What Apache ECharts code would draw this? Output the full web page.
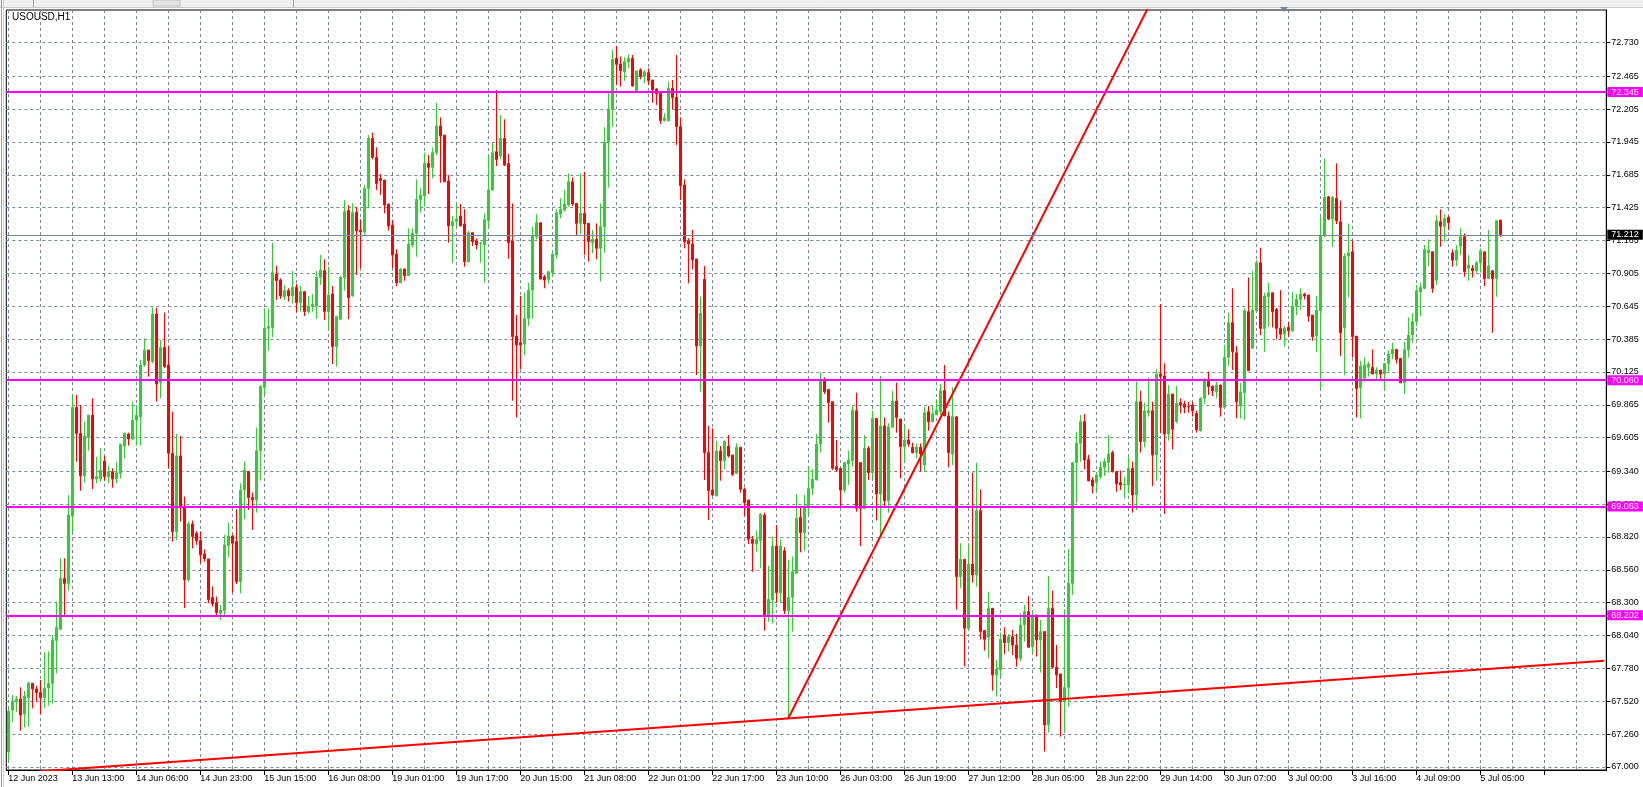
<!DOCTYPE html>
<html><head><meta charset="utf-8">
<script src="https://cdn.jsdelivr.net/npm/echarts@6/dist/echarts.min.js"></script>
<style>html,body{margin:0;padding:0;background:#fff;overflow:hidden}#c{width:1643px;height:787px}</style>
</head><body><div id="c"></div>
<script>
const chartTitle = 'USOUSD,H1';
const xLabels = ['12 Jun 2023','13 Jun 13:00','14 Jun 06:00','14 Jun 23:00','15 Jun 15:00','16 Jun 08:00','19 Jun 01:00','19 Jun 17:00','20 Jun 15:00','21 Jun 08:00','22 Jun 01:00','22 Jun 17:00','23 Jun 10:00','26 Jun 03:00','26 Jun 19:00','27 Jun 12:00','28 Jun 05:00','28 Jun 22:00','29 Jun 14:00','30 Jun 07:00','3 Jul 00:00','3 Jul 16:00','4 Jul 09:00','5 Jul 05:00'];
const barsPerLabel = 16;
const barsPerGrid = 8;
const totalSlots = 400;
const yTicks = [67.000,67.260,67.520,67.780,68.040,68.300,68.560,68.820,69.080,69.340,69.605,69.865,70.125,70.385,70.645,70.905,71.165,71.425,71.685,71.945,72.205,72.465,72.730];
const levels = [72.345, 70.060, 69.063, 68.202];
const lastPrice = 71.212;
const supportLine = [[8, 66.966], [399, 67.840]];
const steepLine = [[195, 67.385], [285, 73.010]];
// [open, high, low, close]
const bars = [
[67.12,67.46,67.05,67.44],[67.451,67.569,67.358,67.522],[67.517,67.561,67.437,67.538],[67.538,67.630,67.287,67.411],
[67.419,67.601,67.313,67.561],[67.548,67.675,67.319,67.662],[67.662,67.662,67.464,67.617],[67.617,67.641,67.517,67.588],
[67.590,67.688,67.419,67.548],[67.548,67.907,67.464,67.622],[67.625,67.915,67.485,67.662],[67.662,68.044,67.503,68.004],
[67.999,68.308,67.741,68.105],[68.089,68.651,68.084,68.492],[68.492,68.651,68.202,68.453],[68.453,69.152,68.395,68.993],
[68.985,69.943,68.854,69.845],[69.845,69.943,69.415,69.639],[69.639,69.864,69.186,69.304],[69.304,69.732,69.249,69.618],
[69.608,69.784,69.502,69.784],[69.784,69.916,69.199,69.278],[69.278,69.455,69.244,69.297],[69.278,69.521,69.257,69.349],
[69.420,69.460,69.265,69.297],[69.297,69.384,69.244,69.336],[69.336,69.363,69.210,69.278],[69.278,69.415,69.244,69.328],
[69.323,69.560,69.283,69.552],[69.539,69.645,69.442,69.639],[69.634,69.645,69.542,69.595],[69.595,69.890,69.587,69.745],
[69.745,69.864,69.542,69.784],[69.771,70.220,69.542,70.180],[70.180,70.391,70.167,70.299],[70.299,70.299,70.088,70.214],
[70.207,70.634,70.194,70.584],[70.584,70.634,69.891,70.030],[70.041,70.378,69.917,70.318],[70.318,70.595,70.154,70.167],
[70.181,70.334,69.363,69.482],[69.482,69.811,68.783,68.862],[68.862,69.635,68.796,69.461],[69.461,69.619,68.941,69.060],
[69.060,69.139,68.256,68.480],[68.480,68.941,68.466,68.923],[68.923,68.949,68.730,68.823],[68.849,68.867,68.757,68.791],
[68.791,68.862,68.612,68.678],[68.686,68.722,68.625,68.646],[68.646,68.646,68.295,68.322],[68.340,68.427,68.269,68.290],
[68.300,68.348,68.190,68.221],[68.216,68.282,68.163,68.242],[68.237,68.836,68.203,68.757],[68.752,68.934,68.659,68.828],
[68.828,68.836,68.379,68.770],[68.783,69.039,68.448,68.467],[68.467,69.245,68.374,69.192],[69.192,69.416,68.960,69.350],
[69.337,69.337,69.034,69.131],[69.131,69.171,68.875,69.113],[69.113,69.685,69.012,69.503],[69.503,70.022,69.266,70.009],
[70.004,70.629,69.943,70.471],[70.471,70.629,70.294,70.484],[70.476,71.148,70.400,70.911],[70.901,70.964,70.695,70.848],
[70.853,70.866,70.703,70.727],[70.721,70.814,70.695,70.769],[70.769,70.787,70.682,70.727],[70.727,70.924,70.668,70.795],
[70.795,70.821,70.595,70.674],[70.674,70.806,70.603,70.761],[70.761,70.761,70.568,70.603],[70.603,70.727,70.589,70.647],
[70.642,70.740,70.603,70.663],[70.647,70.924,70.545,70.874],[70.874,71.051,70.814,70.932],[70.927,71.017,70.537,70.603],
[70.603,70.959,70.458,70.734],[70.742,70.806,70.189,70.326],[70.326,70.569,70.167,70.563],[70.542,70.885,70.537,70.874],
[70.874,71.485,70.769,71.394],[71.402,71.446,70.542,70.713],[70.727,71.460,70.721,71.386],[71.388,71.428,70.893,71.241],
[71.249,71.333,70.945,71.233],[71.235,71.604,71.209,71.578],[71.578,71.999,71.419,71.973],[71.973,72.018,71.807,71.823],
[71.823,71.902,71.565,71.617],[71.657,71.691,71.525,71.638],[71.644,71.644,71.380,71.446],[71.454,71.454,71.243,71.280],
[71.288,71.327,70.945,71.050],[71.058,71.095,70.805,70.831],[70.831,70.945,70.831,70.940],[70.940,70.940,70.847,70.887],
[70.887,71.261,70.887,71.137],[71.129,71.261,71.111,71.222],[71.222,71.649,71.037,71.491],[71.491,71.578,71.385,71.525],
[71.517,71.860,71.433,71.776],[71.776,71.841,71.533,71.744],[71.744,71.902,71.657,71.860],[71.860,72.255,71.841,72.071],
[72.071,72.139,71.623,71.992],[71.999,71.999,71.630,71.630],[71.636,71.683,71.148,71.280],[71.280,71.359,70.990,71.314],
[71.314,71.454,71.274,71.335],[71.359,71.454,71.280,71.280],[71.296,71.414,70.958,70.998],[70.998,71.243,70.990,71.227],
[71.227,71.227,71.122,71.156],[71.161,71.182,71.095,71.129],[71.143,71.156,70.990,71.145],[71.129,71.380,70.831,71.332],
[71.322,71.828,71.261,71.565],[71.565,71.939,71.560,71.860],[71.868,72.356,71.754,71.807],[71.833,72.158,71.807,71.973],
[71.973,72.124,71.754,71.762],[71.775,71.849,71.019,71.148],[71.161,71.459,69.898,70.404],[70.409,70.576,69.766,70.338],
[70.357,70.726,70.146,70.338],[70.346,70.752,70.259,70.549],[70.549,70.831,70.489,70.773],[70.773,71.274,70.549,71.201],
[71.195,71.375,71.174,71.306],[71.306,71.306,70.860,70.860],[70.879,70.892,70.787,70.852],[70.858,70.926,70.826,70.918],
[70.911,71.063,70.884,71.058],[71.050,71.412,71.024,71.385],[71.375,71.499,71.340,71.412],[71.407,71.565,71.393,71.454],
[71.446,71.696,71.433,71.630],[71.630,71.665,71.438,71.454],[71.459,71.459,71.209,71.301],[71.301,71.696,71.216,71.380],
[71.380,71.709,71.050,71.296],[71.301,71.301,70.998,71.156],[71.148,71.249,71.064,71.175],[71.175,71.301,71.017,71.104],
[71.104,71.460,70.840,71.275],[71.275,72.061,71.069,71.942],[71.947,72.343,71.584,72.206],[72.203,72.673,72.066,72.599],
[72.607,72.704,72.396,72.559],[72.562,72.620,72.383,72.509],[72.501,72.615,72.430,72.580],[72.580,72.638,72.528,72.607],
[72.607,72.633,72.383,72.388],[72.338,72.507,72.338,72.507],[72.514,72.528,72.441,72.462],[72.467,72.514,72.409,72.501],
[72.493,72.528,72.396,72.430],[72.435,72.435,72.256,72.356],[72.364,72.369,72.238,72.325],[72.330,72.330,72.087,72.114],
[72.114,72.172,72.106,72.137],[72.114,72.422,72.106,72.369],[72.369,72.435,72.203,72.296],[72.298,72.633,71.921,72.066],
[72.066,72.140,71.486,71.599],[71.605,71.649,71.104,71.156],[71.164,71.183,70.827,71.138],[71.138,71.249,70.937,71.011],
[71.019,71.019,70.101,70.331],[70.331,70.721,69.970,70.589],[70.858,70.963,69.270,69.487],[69.487,69.698,68.954,69.186],
[69.191,69.679,69.144,69.152],[69.144,69.579,69.144,69.500],[69.500,69.539,69.265,69.423],[69.423,69.579,69.355,69.579],
[69.539,69.626,69.450,69.460],[69.468,69.468,69.302,69.315],[69.323,69.560,69.318,69.529],[69.529,69.529,69.170,69.197],
[69.197,69.212,68.986,69.091],[69.112,69.112,68.764,68.801],[68.801,68.827,68.545,68.769],[68.764,68.870,68.704,68.801],
[68.791,69.007,68.572,69.001],[68.994,69.012,68.078,68.202],[68.202,68.590,68.150,68.326],[68.321,68.822,68.136,68.748],
[68.748,68.914,68.300,68.379],[68.379,68.801,68.295,68.748],[68.711,68.738,68.210,68.237],[68.237,68.638,67.385,68.342],
[68.342,68.664,68.071,68.545],[68.532,69.160,68.532,68.967],[68.975,69.059,68.698,68.854],[68.854,69.152,68.711,69.054],
[69.054,69.376,68.994,69.204],[69.204,69.355,69.152,69.276],[69.270,69.634,69.270,69.555],[69.555,70.120,69.487,70.067],
[70.067,70.083,69.951,69.969],[69.988,69.988,69.724,69.882],[69.890,69.890,69.350,69.363],[69.376,69.587,69.336,69.350],
[69.363,69.363,69.054,69.191],[69.191,69.408,69.170,69.408],[69.397,69.503,69.231,69.429],[69.423,69.856,69.376,69.824],
[69.819,69.961,69.020,69.046],[69.408,69.408,68.748,69.046],[69.046,69.626,69.038,69.521],[69.521,69.539,69.270,69.328],
[69.328,69.819,69.276,69.758],[69.758,69.758,68.949,69.160],[69.160,70.093,68.822,69.698],[69.698,69.766,69.059,69.107],
[69.107,69.719,69.012,69.692],[69.687,69.977,69.687,69.895],[69.895,70.040,69.645,69.766],[69.753,69.753,69.284,69.534],
[69.534,69.706,69.415,69.587],[69.587,69.671,69.534,69.555],[69.529,69.566,69.481,69.487],[69.487,69.560,69.442,69.529],
[69.529,69.560,69.336,69.476],[69.389,69.851,69.336,69.803],[69.811,69.856,69.661,69.732],[69.732,69.856,69.724,69.793],
[69.785,69.909,69.785,69.824],[69.811,70.030,69.785,69.977],[69.977,70.180,69.777,69.777],[69.777,69.811,69.371,69.487],
[69.476,70.004,69.389,69.771],[69.771,69.771,68.247,68.506],[68.506,68.770,68.414,68.643],[68.643,68.643,67.794,68.097],
[68.097,68.770,68.084,68.606],[68.606,69.329,68.458,68.519],[68.519,69.408,68.427,69.028],[69.028,69.197,68.010,68.071],
[68.079,68.079,67.921,68.010],[68.026,68.387,67.860,68.255],[68.255,68.255,67.604,67.728],[67.728,67.847,67.557,67.773],
[67.768,68.063,67.710,68.010],[68.045,68.105,67.894,67.984],[67.984,68.053,67.913,68.031],[68.031,68.084,67.886,67.965],
[67.965,68.053,67.794,67.860],[67.860,68.216,67.834,68.124],[68.124,68.282,67.992,68.229],[68.229,68.353,67.947,67.947],
[67.952,68.229,67.900,68.203],[68.203,68.203,67.873,68.005],[68.005,68.163,67.746,68.071],[68.071,68.071,67.122,67.333],
[67.333,68.511,67.272,68.255],[68.255,68.395,67.781,67.789],[67.789,67.965,67.623,67.728],[67.736,67.736,67.240,67.517],
[67.517,68.247,67.280,67.630],[67.630,68.722,67.477,68.453],[68.453,69.408,68.361,69.408],[69.408,69.653,69.091,69.561],
[69.561,69.785,69.416,69.732],[69.732,69.793,69.355,69.429],[69.434,69.469,69.263,69.263],[69.271,69.292,69.165,69.223],
[69.250,69.329,69.178,69.310],[69.297,69.416,69.276,69.371],[69.371,69.442,69.302,69.416],[69.408,69.627,69.329,69.476],
[69.487,69.503,69.329,69.337],[69.337,69.337,69.178,69.239],[69.250,69.345,69.192,69.231],[69.231,69.297,69.126,69.236],
[69.231,69.450,69.165,69.363],[69.363,69.416,69.012,69.152],[69.152,70.049,69.033,69.890],[69.890,69.977,69.487,69.574],
[69.574,69.883,69.529,69.819],[69.803,70.083,69.772,69.819],[69.819,69.890,69.223,69.469],[69.469,70.146,69.265,70.109],
[70.109,70.663,69.640,70.088],[70.093,70.194,69.002,69.635],[69.635,70.022,69.582,69.951],[69.951,69.951,69.513,69.672],
[69.732,70.014,69.719,69.877],[69.882,69.917,69.798,69.864],[69.872,69.898,69.798,69.846],[69.856,69.890,69.803,69.851],
[69.864,69.890,69.772,69.819],[69.798,69.819,69.645,69.666],[69.661,69.925,69.653,69.917],[69.917,70.075,69.872,70.067],
[70.067,70.128,69.943,70.009],[70.014,70.014,69.935,69.977],[69.969,70.049,69.917,70.022],[70.022,70.022,69.772,69.846],
[69.846,70.339,69.838,70.241],[70.241,70.595,70.173,70.515],[70.515,70.787,70.141,70.286],[70.277,70.331,69.758,69.890],
[69.855,70.040,69.758,69.969],[69.961,70.628,69.745,70.610],[70.602,70.873,70.135,70.135],[70.312,70.926,70.312,70.615],
[70.610,71.010,70.610,70.989],[70.989,71.108,70.417,70.470],[70.470,70.752,70.285,70.726],[70.721,70.831,70.483,70.752],
[70.752,70.752,70.478,70.602],[70.620,70.633,70.383,70.470],[70.470,70.773,70.383,70.425],[70.425,70.488,70.325,70.470],
[70.478,70.523,70.404,70.451],[70.451,70.760,70.443,70.647],[70.642,70.741,70.575,70.699],[70.699,70.786,70.615,70.741],
[70.741,70.752,70.699,70.726],[70.734,70.734,70.523,70.567],[70.575,70.575,70.372,70.404],[70.409,70.726,70.285,70.615],
[70.610,71.348,69.995,71.208],[71.208,71.815,71.190,71.506],[71.511,71.517,71.327,71.335],[71.335,71.517,71.116,71.506],
[71.498,71.775,71.295,71.322],[71.314,71.480,70.251,70.436],[70.478,71.063,70.101,71.042],[71.042,71.300,70.715,71.068],
[71.076,71.163,70.240,70.404],[70.409,70.409,69.766,69.995],[70.003,70.214,69.758,70.172],[70.075,70.240,70.048,70.180],
[70.162,70.206,70.088,70.188],[70.162,70.304,70.109,70.109],[70.109,70.162,70.067,70.140],[70.140,70.140,70.056,70.109],
[70.109,70.198,69.982,70.193],[70.193,70.299,70.127,70.267],[70.267,70.357,70.225,70.304],[70.304,70.304,70.193,70.225],
[70.233,70.233,70.040,70.040],[70.040,70.364,69.950,70.304],[70.299,70.557,70.240,70.417],[70.417,70.589,70.357,70.523],
[70.523,70.813,70.488,70.768],[70.760,70.831,70.567,70.794],[70.786,71.129,70.786,71.095],[71.068,71.174,70.963,71.089],
[71.076,71.076,70.752,70.786],[70.852,71.366,70.813,71.322],[71.314,71.411,71.116,71.279],[71.279,71.374,71.155,71.340],
[71.348,71.358,71.248,71.306],[71.068,71.095,70.958,71.010],[71.010,71.129,70.963,71.089],[71.121,71.261,71.050,71.195],
[71.195,71.221,70.879,70.918],[70.945,71.050,70.847,70.971],[70.945,70.971,70.873,70.926],[70.926,71.005,70.910,70.989],
[70.989,71.103,70.910,71.084],[71.076,71.076,70.805,70.865],[70.865,71.248,70.865,70.963],[70.926,70.931,70.436,70.865],
[70.865,71.327,70.720,71.322],[71.327,71.327,71.195,71.212]
];

const categories = [];
for (let i = 0; i < totalSlots; i++) categories.push(String(i));
const candleData = bars.map(b => [b[0], b[3], b[2], b[1]]);
const FONT = 'Liberation Sans';
const GRIDC = '#778899';

const levelMarks = levels.map(v => ({
  yAxis: v,
  lineStyle: {color: '#FF00FF', width: 2, type: 'solid'},
  label: {show: true, position: 'end', distance: 1, formatter: v.toFixed(3), color: '#fff', backgroundColor: '#FF00FF', padding: [1, 4, 0, 4], fontSize: 9, fontFamily: FONT, lineHeight: 9}
}));
levelMarks.push({
  yAxis: lastPrice,
  lineStyle: {color: '#778899', width: 1, type: 'solid'},
  label: {show: true, position: 'end', distance: 1, formatter: lastPrice.toFixed(3), color: '#fff', backgroundColor: '#000', padding: [1, 4, 0, 4], fontSize: 9, fontFamily: FONT, lineHeight: 9}
});

const option = {
  animation: false,
  backgroundColor: '#ffffff',
  grid: {left: 6.3, top: 10, width: 1600, height: 760, show: true, borderColor: '#000', borderWidth: 1, backgroundColor: 'transparent'},
  xAxis: {
    type: 'category', data: categories, boundaryGap: true,
    axisLine: {show: true, lineStyle: {color: '#000', width: 1}},
    axisTick: {show: true, interval: barsPerLabel - 1, alignWithLabel: true, length: 5, lineStyle: {color: '#000'}},
    axisLabel: {
      show: true, align: 'left', margin: 4, fontSize: 9, fontFamily: FONT, color: '#000',
      interval: (idx) => idx % barsPerLabel === 0 && idx / barsPerLabel < xLabels.length,
      formatter: (val, idx) => xLabels[idx / barsPerLabel] || ''
    },
    splitLine: {show: true, interval: barsPerGrid - 1, alignWithLabel: true, lineStyle: {color: GRIDC, type: [3, 3], width: 1}}
  },
  yAxis: {
    type: 'value', position: 'right', min: 66.976, max: 72.989, scale: true,
    axisLine: {show: true, lineStyle: {color: '#000'}},
    axisTick: {show: true, length: 4, inside: false, customValues: yTicks, lineStyle: {color: '#000'}},
    axisLabel: {show: true, margin: 5, fontSize: 9, fontFamily: FONT, color: '#000', customValues: yTicks, formatter: v => v.toFixed(3)},
    splitLine: {show: true, lineStyle: {color: GRIDC, type: [3, 3], width: 1}}
  },
  series: [
    {
      type: 'candlestick', data: candleData, barWidth: 2,
      itemStyle: {color: '#32CD32', color0: '#FF0000', borderColor: '#32CD32', borderColor0: '#FF0000', borderColorDoji: '#32CD32', borderWidth: 1},
      markLine: {silent: true, symbol: ['none', 'none'], animation: false, data: levelMarks}
    },
    {type: 'line', data: supportLine, showSymbol: false, symbol: 'none', lineStyle: {color: '#FF0000', width: 2}, silent: true, z: 4},
    {type: 'line', data: steepLine, showSymbol: false, symbol: 'none', lineStyle: {color: '#FF0000', width: 2}, silent: true, z: 4}
  ],
  graphic: [
    {type: 'rect', shape: {x: 0, y: 0, width: 1643, height: 7}, style: {fill: '#f0f0f0'}, silent: true, z: 10},
    {type: 'line', shape: {x1: 0, y1: 7.5, x2: 1643, y2: 7.5}, style: {stroke: '#c8c8c8', lineWidth: 1}, silent: true, z: 10},
    {type: 'line', shape: {x1: 33.5, y1: 0, x2: 33.5, y2: 7}, style: {stroke: '#a0a0a0', lineWidth: 1}, silent: true, z: 10},
    {type: 'rect', shape: {x: 153, y: 0, width: 27, height: 6}, style: {fill: '#e4e4e4', stroke: '#c0c0c0', lineWidth: 1}, silent: true, z: 10},
    {type: 'line', shape: {x1: 293.5, y1: 0, x2: 293.5, y2: 7}, style: {stroke: '#a0a0a0', lineWidth: 1}, silent: true, z: 10},
    {type: 'line', shape: {x1: 1.5, y1: 0, x2: 1.5, y2: 787}, style: {stroke: '#a0a0a0', lineWidth: 1}, silent: true, z: 10},
    {type: 'line', shape: {x1: 3.5, y1: 0, x2: 3.5, y2: 787}, style: {stroke: '#d0d0d0', lineWidth: 1}, silent: true, z: 10},
    {type: 'polygon', shape: {points: [[1280, 7], [1288, 7], [1284, 12]]}, style: {fill: '#778899'}, silent: true, z: 10},
    {type: 'text', left: 12, top: 12, style: {text: chartTitle, fontSize: 10, fontFamily: FONT, fill: '#000'}}
  ]
};
const chart = echarts.init(document.getElementById('c'));
chart.setOption(option);
</script></body></html>
